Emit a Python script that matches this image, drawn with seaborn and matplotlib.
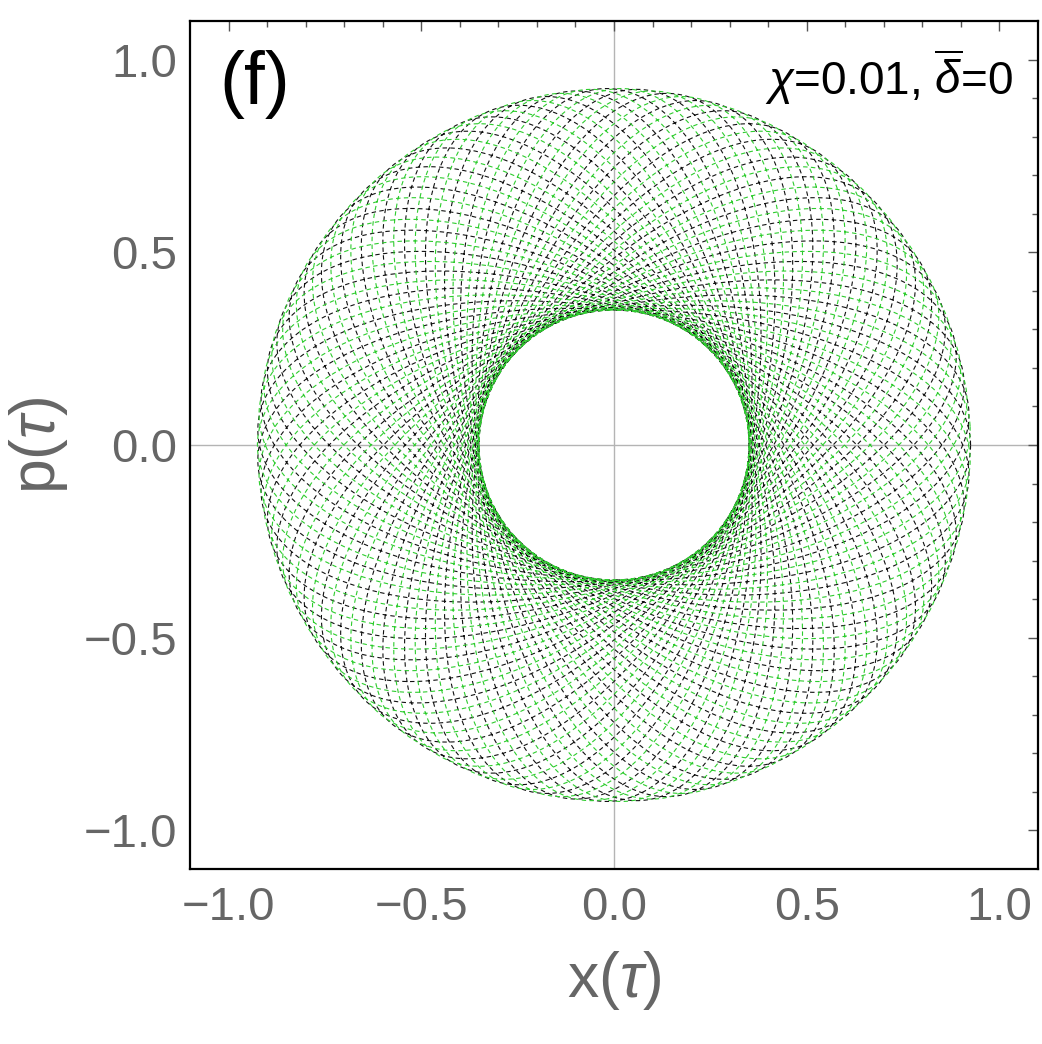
import numpy as np
import pandas as pd
import matplotlib
matplotlib.use("Agg")
import matplotlib.pyplot as plt
import seaborn as sns

# phase-space orbit: annulus between the two radii
r_inner = 0.35
r_outer = 0.925
n_turns = 32      # slow rotations of the orbit
n_loops = 59      # radial in/out oscillations over the whole run
n_points = 40000

x_ticks = [-1.0, -0.5, 0.0, 0.5, 1.0]
y_ticks = [-1.0, -0.5, 0.0, 0.5, 1.0]
tick_labels = ["\u22121.0", "\u22120.5", "0.0", "0.5", "1.0"]

panel_tag = "(f)"
param_text = r"$\chi$=0.01, $\overline{\delta}$=0"


def orbit(shift=0.0):
    a = (r_outer + r_inner) / 2
    b = (r_outer - r_inner) / 2
    w = 1 - n_loops / n_turns
    t = np.linspace(0, 2 * np.pi * n_turns, n_points)
    z = (a * np.exp(1j * t) + b * np.exp(1j * w * t)) * np.exp(1j * shift)
    return pd.DataFrame({"x": z.real, "p": z.imag})


df_black = orbit(0.0)
df_green = orbit(np.pi / n_loops)

sns.set_style("white")
plt.rcParams["font.family"] = ["Liberation Sans", "DejaVu Sans"]
plt.rcParams["mathtext.fontset"] = "custom"
plt.rcParams["mathtext.rm"] = "Liberation Sans"
plt.rcParams["mathtext.it"] = "Liberation Sans:italic"

fig, ax = plt.subplots(figsize=(10.42, 10.44), dpi=100)
fig.subplots_adjust(left=0.1823, right=0.9962, top=0.9799, bottom=0.1676)

ax.axhline(0, color="#b4b4b4", lw=1.0, zorder=0)
ax.axvline(0, color="#b4b4b4", lw=1.0, zorder=0)

sns.lineplot(data=df_black, x="x", y="p", sort=False, estimator=None, ax=ax,
             color="#111111", lw=0.8, linestyle=(0, (4, 3)))
sns.lineplot(data=df_green, x="x", y="p", sort=False, estimator=None, ax=ax,
             color="#2ecc2e", lw=0.8, linestyle=(0, (4, 3)))

ax.set_xlim(-1.1, 1.1)
ax.set_ylim(-1.1, 1.1)
ax.set_xticks(x_ticks)
ax.set_yticks(y_ticks)
ax.set_xticklabels(tick_labels)
ax.set_yticklabels(tick_labels)
ax.set_xticks(np.arange(-1.0, 1.05, 0.1), minor=True)
ax.set_yticks(np.arange(-1.0, 1.05, 0.1), minor=True)
ax.tick_params(which="both", direction="in", top=True, right=True,
               color="#555555", width=1.0)
ax.tick_params(which="major", length=7, labelsize=34, labelcolor="#666666")
ax.tick_params(axis="x", which="major", pad=12)
ax.tick_params(axis="y", which="major", pad=9)
ax.tick_params(which="minor", length=4)

for s in ax.spines.values():
    s.set_color("black")
    s.set_linewidth(1.6)

ax.set_xlabel(r"x($\tau$)", fontsize=45, color="#666666", labelpad=14)
ax.set_ylabel(r"p($\tau$)", fontsize=45, color="#666666", labelpad=10)

ax.text(0.035, 0.925, panel_tag, transform=ax.transAxes, fontsize=54,
        ha="left", va="center", color="black")
ax.text(0.9705, 0.9127, param_text, transform=ax.transAxes, fontsize=33,
        ha="right", va="baseline", color="black")

fig.savefig("out.png", dpi=100)
